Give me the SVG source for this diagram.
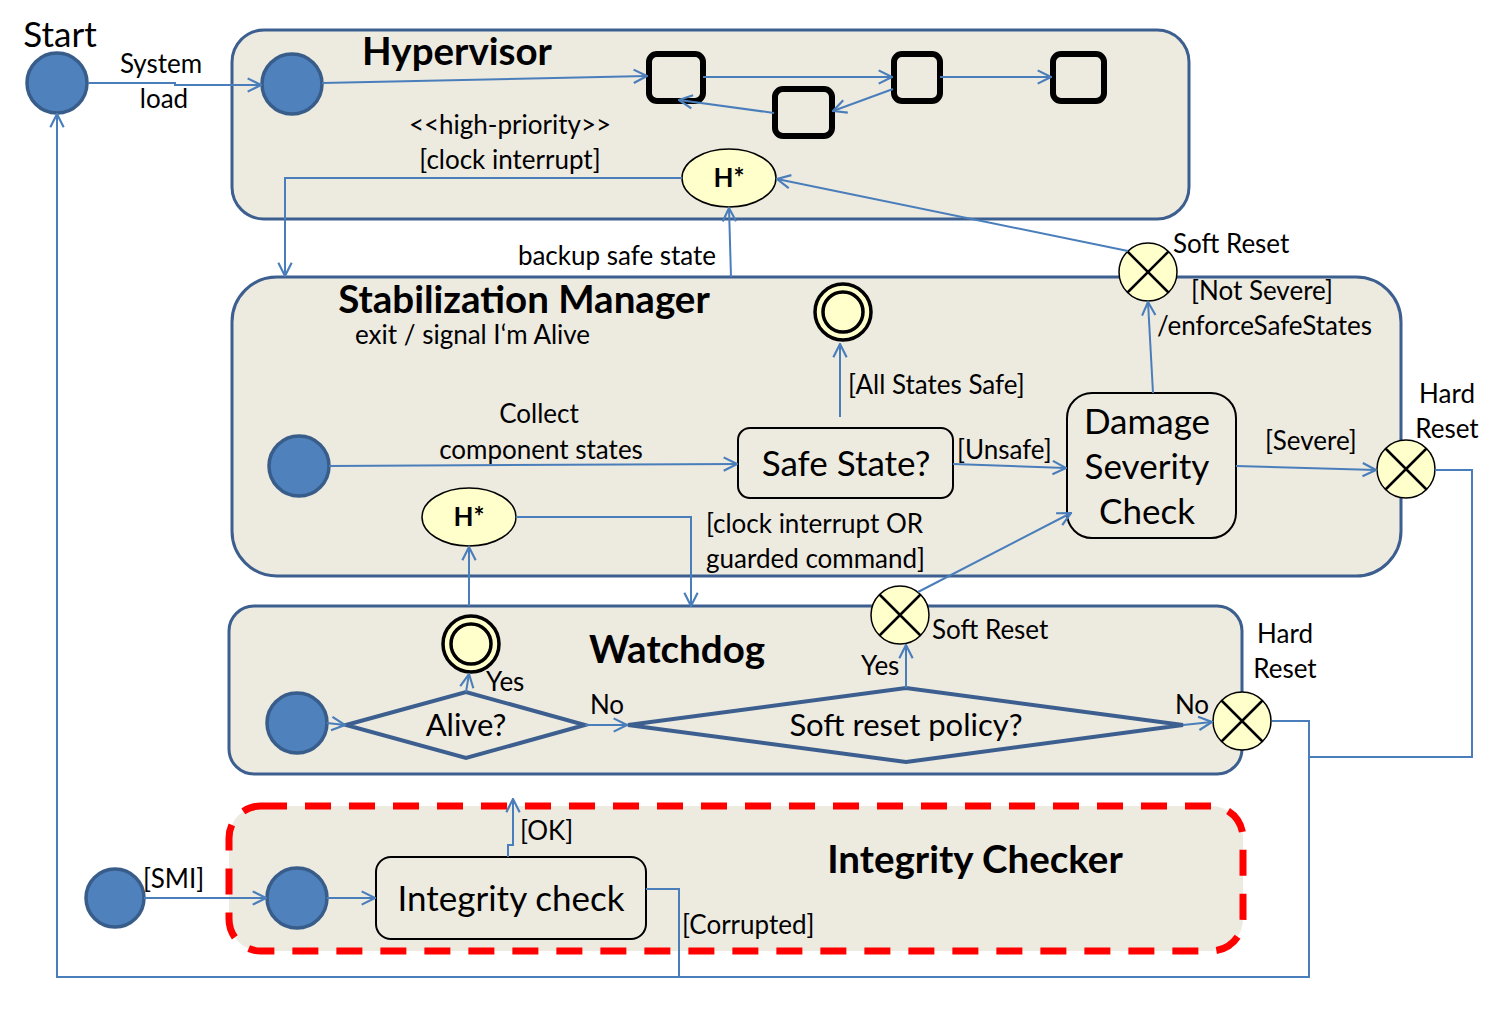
<svg xmlns="http://www.w3.org/2000/svg" width="1499" height="1028" viewBox="0 0 1499 1028">
<defs>
<marker id="arr" viewBox="0 0 12 12" refX="11" refY="6" markerWidth="16" markerHeight="16" markerUnits="userSpaceOnUse" orient="auto">
<path d="M1,1 L11,6 L1,11" fill="none" stroke="#4a7ebb" stroke-width="1.6"/>
</marker>
<g id="xsym">
<circle r="29" fill="#ffffcc" stroke="#000" stroke-width="1.5"/>
<path d="M-20.5,-20.5 L20.5,20.5 M20.5,-20.5 L-20.5,20.5" stroke="#000" stroke-width="2.5"/>
</g>
</defs>
<style>
text{font-family:Lato,"Open Sans","Liberation Sans",sans-serif;fill:#000}
.t{font-size:26px}
.tm{text-anchor:middle}
.big{font-size:35px}
.dt{font-size:31px}
.hd{font-size:38.5px;font-weight:bold}
.comp{fill:#edeae0;stroke:#3c5f8f;stroke-width:3}
.init{fill:#4f81bd;stroke:#385d8a;stroke-width:3.5}
.hist{fill:#ffffcc;stroke:#000;stroke-width:1.5}
.st{fill:#edeae0;stroke:#000;stroke-width:2}
.sq{fill:none;stroke:#000;stroke-width:6}
.dia{fill:none;stroke:#3c5f8f;stroke-width:4}
.c{fill:none;stroke:#4a7ebb;stroke-width:2}
.ca{fill:none;stroke:#4a7ebb;stroke-width:2;marker-end:url(#arr)}
</style>
<rect width="1499" height="1028" fill="#fff"/>

<g id="hypervisor">
<rect class="comp" x="232" y="30" width="957" height="189" rx="32"/>
<text class="hd tm" x="457" y="65">Hypervisor</text>
<circle class="init" cx="292" cy="84" r="30"/>
<rect class="sq" x="649" y="54" width="54" height="47" rx="8"/>
<rect class="sq" x="775" y="89" width="57" height="47" rx="8"/>
<rect class="sq" x="894" y="54" width="46" height="47" rx="8"/>
<rect class="sq" x="1053" y="54" width="51" height="47" rx="8"/>
<text class="t tm" x="510" y="134">&lt;&lt;high-priority&gt;&gt;</text>
<text class="t tm" x="510" y="169">[clock interrupt]</text>
</g>
<g id="hist-hyp">
<ellipse class="hist" cx="729" cy="178" rx="47" ry="29"/>
<text class="t tm" x="729" y="187" font-weight="bold">H*</text>
</g>

<g id="start">
<circle class="init" cx="57" cy="83" r="30"/>
<text class="tm" x="60" y="47" style="font-size:35px">Start</text>
</g>

<g id="stab">
<rect class="comp" x="232" y="277" width="1169" height="299" rx="45"/>
<text class="hd tm" x="524" y="313">Stabilization Manager</text>
<text class="t" x="355" y="344">exit / signal I‘m Alive</text>
<circle class="init" cx="299" cy="466" r="30"/>
</g>
<g id="final-stab">
<circle cx="843" cy="312" r="28" fill="#ffffcc" stroke="#000" stroke-width="3.5"/>
<circle cx="843" cy="312" r="20" fill="#ffffcc" stroke="#000" stroke-width="3.5"/>
</g>
<g id="safe-state">
<rect class="st" x="738" y="428" width="215" height="70" rx="12"/>
<text class="big tm" x="846" y="476">Safe State?</text>
</g>
<g id="damage">
<rect class="st" x="1067" y="393" width="169" height="145" rx="25"/>
<text class="big tm" x="1147" y="434">Damage</text>
<text class="big tm" x="1147" y="479">Severity</text>
<text class="big tm" x="1147" y="524">Check</text>
</g>
<g id="hist-stab">
<ellipse class="hist" cx="469" cy="517" rx="47" ry="29"/>
<text class="t tm" x="469" y="526" font-weight="bold">H*</text>
</g>

<g id="watchdog">
<rect class="comp" x="229" y="606" width="1013" height="168" rx="25"/>
<text class="hd tm" x="677" y="663">Watchdog</text>
<circle class="init" cx="297" cy="723" r="30"/>
</g>
<g id="final-wd">
<circle cx="471" cy="644" r="28" fill="#ffffcc" stroke="#000" stroke-width="3.5"/>
<circle cx="471" cy="644" r="20" fill="#ffffcc" stroke="#000" stroke-width="3.5"/>
</g>
<g id="alive">
<polygon class="dia" points="346,725 466,692 585,725 466,758"/>
<text class="dt tm" x="466" y="736">Alive?</text>
</g>
<g id="policy">
<polygon class="dia" points="628,725 906,688 1183,725 906,762"/>
<text class="dt tm" x="906" y="736">Soft reset policy?</text>
</g>

<g id="integrity">
<rect x="229" y="806" width="1014" height="145" rx="32" fill="#edeae0" stroke="#ff0000" stroke-width="7" stroke-dasharray="26 18"/>
<text class="hd tm" x="975" y="873">Integrity Checker</text>
<circle class="init" cx="297" cy="898" r="30"/>
<rect class="st" x="376" y="857" width="270" height="82" rx="15"/>
<text class="big tm" x="511" y="911">Integrity check</text>
</g>
<g id="smi-init">
<circle class="init" cx="115" cy="898" r="29"/>
</g>

<g id="soft-reset-top"><use href="#xsym" x="1148" y="272"/></g>
<g id="hard-reset-stab"><use href="#xsym" x="1406" y="469"/></g>
<g id="soft-reset-wd"><use href="#xsym" x="900" y="615"/></g>
<g id="hard-reset-wd"><use href="#xsym" x="1242" y="721"/></g>

<g id="connectors">
<path class="ca" d="M88,83 L175,83 L175,85 L261,85"/>
<path class="ca" d="M322,83 L647,76"/>
<path class="ca" d="M703,77 L892,77"/>
<path class="ca" d="M940,77 L1051,77"/>
<path class="ca" d="M893,89 L833,111"/>
<path class="ca" d="M774,113 L679,100"/>
<path class="ca" d="M682,178 L285,178 L285,276"/>
<path class="ca" d="M731,277 L729,208"/>
<path class="ca" d="M1128,251 L777,179"/>
<path class="ca" d="M329,466 L737,464"/>
<path class="ca" d="M840,417 L840,344"/>
<path class="ca" d="M953,464 L1066,468"/>
<path class="ca" d="M1153,393 L1148,302"/>
<path class="ca" d="M1236,466 L1376,470"/>
<path class="c" d="M1435,470 L1472,470 L1472,757 L1309,757"/>
<path class="ca" d="M516,517 L691,517 L691,606"/>
<path class="ca" d="M469,606 L469,547"/>
<path class="ca" d="M327,723 L345,725"/>
<path class="ca" d="M466,692 L469,674"/>
<path class="ca" d="M585,725 L627,725"/>
<path class="ca" d="M906,688 L906,645"/>
<path class="ca" d="M918,592 L1071,513"/>
<path class="ca" d="M1183,725 L1212,722"/>
<path class="ca" d="M1272,721 L1309,721 L1309,977 L57,977 L57,114"/>
<path class="ca" d="M144,898 L266,898"/>
<path class="ca" d="M327,898 L375,898"/>
<path class="ca" d="M508,857 L508,845 L513,845 L513,799"/>
<path class="c" d="M646,889 L679,889 L679,977"/>
</g>

<g id="labels">
<text class="t tm" x="161" y="73">System</text>
<text class="t tm" x="164" y="108">load</text>
<text class="t tm" x="617" y="265">backup safe state</text>
<text class="t" x="1173" y="253">Soft Reset</text>
<text class="t" x="1191" y="300">[Not Severe]</text>
<text class="t" x="1157" y="335">/enforceSafeStates</text>
<text class="t" x="848" y="394">[All States Safe]</text>
<text class="t tm" x="539" y="423">Collect</text>
<text class="t tm" x="541" y="459">component states</text>
<text class="t" x="957" y="459">[Unsafe]</text>
<text class="t" x="1265" y="450">[Severe]</text>
<text class="t tm" x="1447" y="403">Hard</text>
<text class="t tm" x="1447" y="438">Reset</text>
<text class="t" x="706" y="533">[clock interrupt OR</text>
<text class="t" x="706" y="568">guarded command]</text>
<text class="t" x="932" y="639">Soft Reset</text>
<text class="t" x="861" y="675">Yes</text>
<text class="t" x="486" y="691">Yes</text>
<text class="t tm" x="607" y="714">No</text>
<text class="t tm" x="1192" y="714">No</text>
<text class="t tm" x="1285" y="643">Hard</text>
<text class="t tm" x="1285" y="678">Reset</text>
<text class="t" x="143" y="888">[SMI]</text>
<text class="t" x="520" y="840">[OK]</text>
<text class="t" x="682" y="934">[Corrupted]</text>
</g>
</svg>
